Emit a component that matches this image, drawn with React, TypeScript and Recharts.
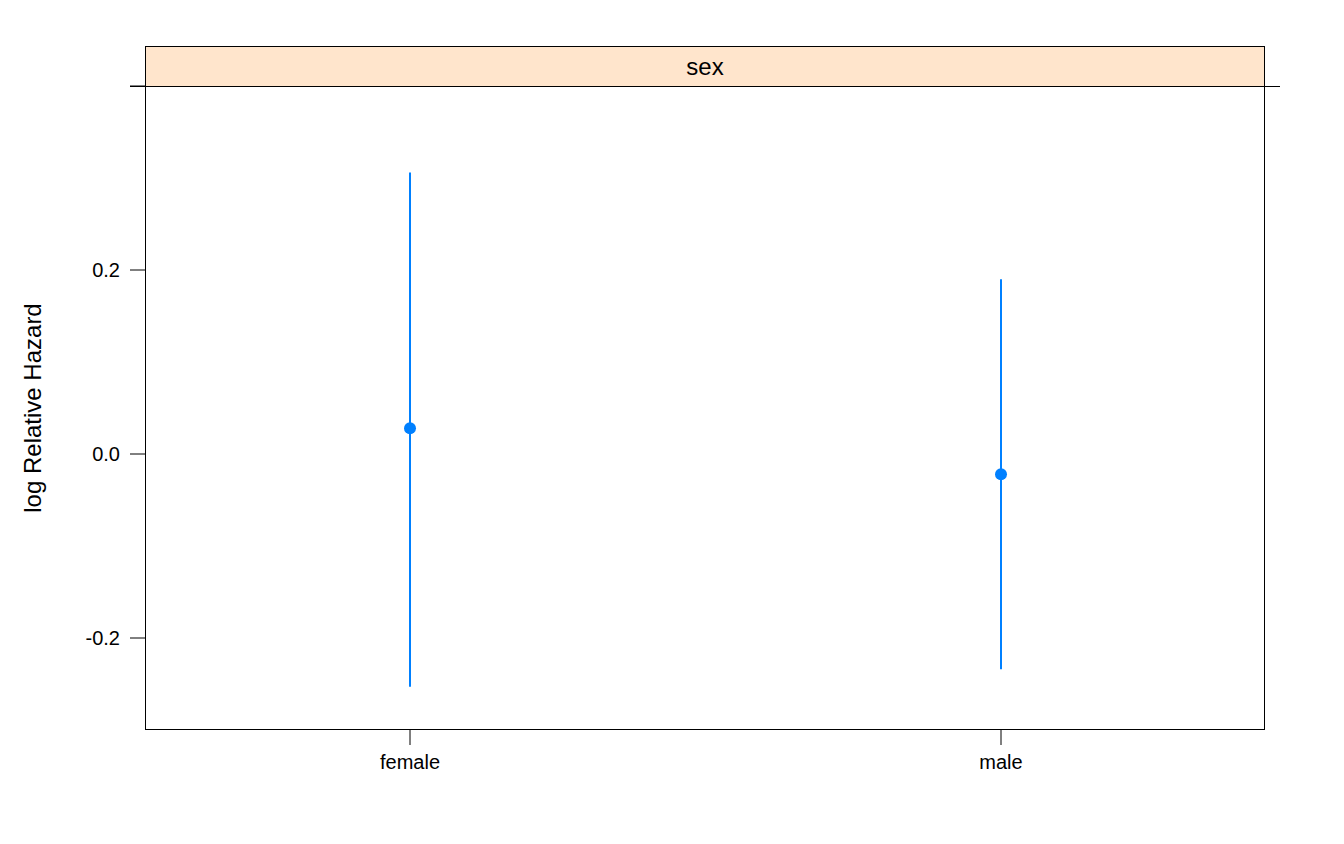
import React from 'react';
import { ComposedChart, Scatter, ErrorBar, XAxis, YAxis } from 'recharts';

const categories = ['female', 'male'];
const estimates = [0.028, -0.022];
const lowerBounds = [-0.253, -0.234];
const upperBounds = [0.306, 0.19];
const yTicks = [-0.2, 0, 0.2, 0.4];

const data = categories.map((name, i) => ({
  x: i + 1,
  y: estimates[i],
  err: [estimates[i] - lowerBounds[i], upperBounds[i] - estimates[i]],
}));

const font = '"Liberation Sans", Arial, sans-serif';
const tickStyle = { fontSize: 20, fill: '#000', fontFamily: font };

export default function App() {
  return (
    <div style={{ position: 'absolute', left: 0, top: 0, width: 1344, height: 844, background: '#fff' }}>
      <ComposedChart width={1344} height={844} data={data} margin={{ top: 86, right: 78, bottom: 113, left: 144 }}>
        <XAxis
          type="number"
          dataKey="x"
          domain={[0.5516, 2.4467]}
          ticks={[1, 2]}
          tickFormatter={(v: number) => categories[v - 1]}
          axisLine={false}
          tickSize={15}
          tickLine={{ stroke: '#000' }}
          tick={tickStyle}
          tickMargin={10}
          height={1}
        />
        <YAxis
          yAxisId="l"
          type="number"
          domain={[-0.3, 0.4]}
          ticks={yTicks}
          tickFormatter={(v: number) => (v === 0.4 ? '' : v.toFixed(1))}
          axisLine={false}
          tickSize={15}
          tickLine={{ stroke: '#000' }}
          tick={tickStyle}
          tickMargin={10}
          width={1}
        />
        <YAxis
          yAxisId="r"
          orientation="right"
          type="number"
          domain={[-0.3, 0.4]}
          ticks={yTicks}
          tickFormatter={() => ''}
          axisLine={false}
          tickSize={15}
          tickLine={{ stroke: '#000' }}
          width={1}
        />
        <Scatter yAxisId="l" dataKey="y" fill="#0080ff" isAnimationActive={false}
          shape={(p: any) => <circle cx={p.cx} cy={p.cy} r={6} fill="#0080ff" />}>
          <ErrorBar dataKey="err" direction="y" width={0} stroke="#0080ff" strokeWidth={2} isAnimationActive={false} />
        </Scatter>
      </ComposedChart>
      <div style={{ position: 'absolute', left: 145, top: 86, width: 1120, height: 644, border: '1px solid #000', boxSizing: 'border-box', pointerEvents: 'none' }} />
      <div style={{ position: 'absolute', left: 145, top: 46, width: 1120, height: 41, background: '#ffe5cc', border: '1px solid #000', boxSizing: 'border-box', textAlign: 'center', fontFamily: font, fontSize: 24, lineHeight: '40px' }}>sex</div>
      <div style={{ position: 'absolute', left: 130, top: 86, width: 1150, height: 1, background: '#000' }} />
      <div style={{ position: 'absolute', left: 33, top: 408, transform: 'translate(-50%, -50%) rotate(-90deg)', fontFamily: font, fontSize: 24, whiteSpace: 'nowrap' }}>log Relative Hazard</div>
    </div>
  );
}
